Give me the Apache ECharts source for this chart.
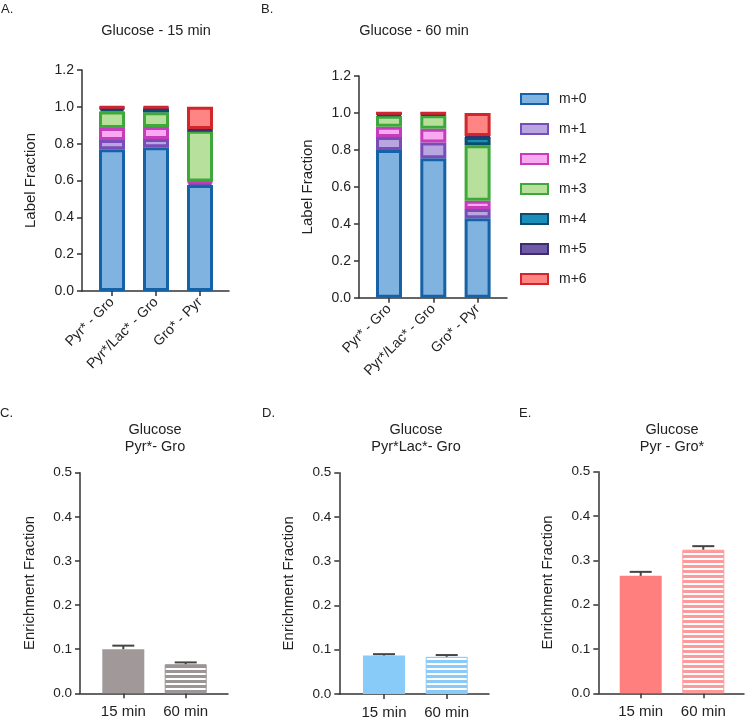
<!DOCTYPE html>
<html><head><meta charset="utf-8">
<script src="https://cdn.jsdelivr.net/npm/echarts@6/dist/echarts.min.js"></script>
<style>html,body{margin:0;padding:0;background:#fff}#c{width:745px;height:719px}</style>
</head><body><div id="c"></div>
<script>
// ---------- data ----------
const stackCategories = ['Pyr* - Gro', 'Pyr*/Lac* - Gro', 'Gro* - Pyr'];
const isotopologues = ['m+0', 'm+1', 'm+2', 'm+3', 'm+4', 'm+5', 'm+6'];
// rows = isotopologue m+0..m+6, columns = category
const glucose15 = [
  [0.770, 0.780, 0.575],
  [0.050, 0.045, 0.015],
  [0.065, 0.065, 0.005],
  [0.090, 0.080, 0.275],
  [0.015, 0.020, 0.005],
  [0.005, 0.005, 0.005],
  [0.005, 0.005, 0.120]
];
const glucose60 = [
  [0.800, 0.755, 0.430],
  [0.070, 0.085, 0.050],
  [0.055, 0.075, 0.045],
  [0.060, 0.072, 0.300],
  [0.010, 0.008, 0.045],
  [0.003, 0.003, 0.005],
  [0.002, 0.002, 0.125]
];
const labelTicks = [0, 0.2, 0.4, 0.6, 0.8, 1.0, 1.2];
const timeCategories = ['15 min', '60 min'];
const enrichPyrGro = [0.100, 0.066];
const enrichPyrGroSd = [0.008, 0.004];
const enrichPyrLacGro = [0.087, 0.084];
const enrichPyrLacGroSd = [0.003, 0.004];
const enrichPyrGroStar = [0.265, 0.324];
const enrichPyrGroStarSd = [0.009, 0.008];
const enrichTicks = [0, 0.1, 0.2, 0.3, 0.4, 0.5];

// ---------- styles ----------
const FONT = '"Liberation Sans", Arial, sans-serif';
const TXT = '#222';
const AX = '#333';
const fills = ['#80B3E0', '#B9A6E0', '#F8A9F2', '#B6E09B', '#1C8EBA', '#6E5AA6', '#FF8585'];
const borders = ['#1562A6', '#7A4CB8', '#C53DBA', '#3FA83B', '#0C4D6F', '#3D2C6E', '#D1262B'];

function stripes(color) {
  const c = document.createElement('canvas');
  c.width = 4; c.height = 5;
  const g = c.getContext('2d');
  g.fillStyle = color; g.fillRect(0, 0, 4, 3);
  g.fillStyle = '#ffffff'; g.fillRect(0, 3, 4, 2);
  return { image: c, repeat: 'repeat' };
}

const chart = echarts.init(document.getElementById('c'), null, { renderer: 'canvas' });

const grids = [], xAxes = [], yAxes = [], series = [], titles = [];

// panel geometry: axisX = y-axis line x, band = category spacing, c0 = first category centre
function addPanel(p) {
  const gi = grids.length;
  const n = p.categories.length;
  const left = p.c0 - p.band / 2;
  grids.push({ left: left, top: p.top, width: p.band * n, height: p.height, containLabel: false, outerBoundsMode: 'none' });
  // dummy grid that draws the full-length x axis line
  grids.push({ left: p.axisX, top: p.top, width: p.axisEnd - p.axisX, height: p.height, containLabel: false, outerBoundsMode: 'none' });
  const xi = xAxes.length, yi = yAxes.length;
  xAxes.push({
    type: 'category', gridIndex: gi, data: p.categories,
    axisLine: { show: false },
    axisTick: { show: true, alignWithLabel: true, length: 5, lineStyle: { color: AX, width: 1.5 } },
    axisLabel: { color: TXT, fontFamily: FONT, fontSize: p.catFont, rotate: p.rotate || 0, margin: p.catMargin, interval: 0 },
    splitLine: { show: false }
  });
  xAxes.push({
    type: 'value', gridIndex: gi + 1, min: 0, max: 1,
    axisLine: { show: true, onZero: false, lineStyle: { color: AX, width: 1.5 } },
    axisTick: { show: false }, axisLabel: { show: false }, splitLine: { show: false }
  });
  yAxes.push({
    type: 'value', gridIndex: gi, min: p.ticks[0], max: p.ticks[p.ticks.length - 1],
    interval: p.ticks[1] - p.ticks[0], offset: left - p.axisX,
    name: p.yName, nameLocation: 'middle', nameGap: p.nameGap,
    nameTextStyle: { color: TXT, fontFamily: FONT, fontSize: 15 },
    axisLine: { show: true, lineStyle: { color: AX, width: 1.5 } },
    axisTick: { show: true, length: 5, lineStyle: { color: AX, width: 1.5 } },
    axisLabel: { color: TXT, fontFamily: FONT, fontSize: p.tickFont, margin: 8, formatter: v => v.toFixed(1) },
    splitLine: { show: false }
  });
  yAxes.push({ type: 'value', gridIndex: gi + 1, min: 0, max: 1, show: false });
  return { xi: xi, yi: yi };
}

function stackedPanel(p, data) {
  const ax = addPanel(p);
  data.forEach((vals, k) => {
    series.push({
      type: 'bar', name: isotopologues[k], stack: 'S' + ax.xi,
      xAxisIndex: ax.xi, yAxisIndex: ax.yi, barWidth: 26,
      itemStyle: { color: fills[k], borderColor: borders[k], borderWidth: 3 },
      emphasis: { disabled: true },
      data: vals
    });
  });
}

function enrichPanel(p, vals, sds, color, stripeColor) {
  const ax = addPanel(p);
  series.push({
    type: 'bar', xAxisIndex: ax.xi, yAxisIndex: ax.yi, barWidth: 42,
    emphasis: { disabled: true },
    data: vals.map((v, i) => ({
      value: v,
      itemStyle: i === 0 ? { color: color } : { color: stripes(stripeColor), borderColor: stripeColor, borderWidth: 1 }
    }))
  });
  series.push({
    type: 'custom', xAxisIndex: ax.xi, yAxisIndex: ax.yi, z: 5,
    data: vals.map((v, i) => [i, v, sds[i]]),
    renderItem: function (params, api) {
      const x = api.value(0), m = api.value(1), s = api.value(2);
      const a = api.coord([x, m]);
      const b = api.coord([x, m + s]);
      const st = { stroke: '#444', lineWidth: 2, fill: null };
      return {
        type: 'group', children: [
          { type: 'line', shape: { x1: a[0], y1: a[1], x2: b[0], y2: b[1] }, style: st },
          { type: 'line', shape: { x1: b[0] - 11, y1: b[1], x2: b[0] + 11, y2: b[1] }, style: st }
        ]
      };
    }
  });
}

stackedPanel({ categories: stackCategories, axisX: 82, axisEnd: 229, c0: 112, band: 44, top: 70, height: 221,
  ticks: labelTicks, yName: 'Label Fraction', nameGap: 44, tickFont: 14, catFont: 14, rotate: 45, catMargin: 9 }, glucose15);
stackedPanel({ categories: stackCategories, axisX: 359, axisEnd: 507, c0: 389, band: 44.3, top: 76, height: 221.7,
  ticks: labelTicks, yName: 'Label Fraction', nameGap: 44, tickFont: 14, catFont: 14, rotate: 45, catMargin: 9 }, glucose60);

enrichPanel({ categories: timeCategories, axisX: 80, axisEnd: 228, c0: 123.3, band: 62.4, top: 472.7, height: 220.6,
  ticks: enrichTicks, yName: 'Enrichment Fraction', nameGap: 43, tickFont: 13.5, catFont: 15, catMargin: 11 },
  enrichPyrGro, enrichPyrGroSd, '#A09899', '#9C9495');
enrichPanel({ categories: timeCategories, axisX: 339.3, axisEnd: 489, c0: 384, band: 62.7, top: 472.7, height: 221.3,
  ticks: enrichTicks, yName: 'Enrichment Fraction', nameGap: 43, tickFont: 13.5, catFont: 15, catMargin: 11 },
  enrichPyrLacGro, enrichPyrLacGroSd, '#88CAF8', '#88CAF8');
enrichPanel({ categories: timeCategories, axisX: 598.3, axisEnd: 744, c0: 640.7, band: 62.6, top: 471.7, height: 221.6,
  ticks: enrichTicks, yName: 'Enrichment Fraction', nameGap: 43, tickFont: 13.5, catFont: 15, catMargin: 11 },
  enrichPyrGroStar, enrichPyrGroStarSd, '#FF7F7F', '#FF9A9A');

function t(text, x, y, size, align) {
  titles.push({ text: text, left: x, top: y, textAlign: align || 'left', padding: 0,
    textStyle: { color: TXT, fontFamily: FONT, fontSize: size, fontWeight: 'normal', lineHeight: 17 } });
}
t('A.', 1, 1, 13); t('B.', 261, 1, 13); t('C.', 0, 405, 13); t('D.', 262, 405, 13); t('E.', 519, 405, 13);
t('Glucose - 15 min', 156, 22, 14.5, 'center');
t('Glucose - 60 min', 414, 22, 14.5, 'center');
t('Glucose\nPyr*- Gro', 155, 421, 14.5, 'center');
t('Glucose\nPyr*Lac*- Gro', 416, 421, 14.5, 'center');
t('Glucose\nPyr - Gro*', 672, 421, 14.5, 'center');

chart.setOption({
  animation: false,
  backgroundColor: '#fff',
  title: titles,
  legend: {
    data: isotopologues, orient: 'vertical', left: 515, top: 87,
    itemWidth: 27, itemHeight: 10, itemGap: 16, icon: 'rect',
    textStyle: { color: TXT, fontFamily: FONT, fontSize: 14, padding: [0, 0, 0, 6] },
    selectedMode: false
  },
  grid: grids, xAxis: xAxes, yAxis: yAxes, series: series
});
</script></body></html>
